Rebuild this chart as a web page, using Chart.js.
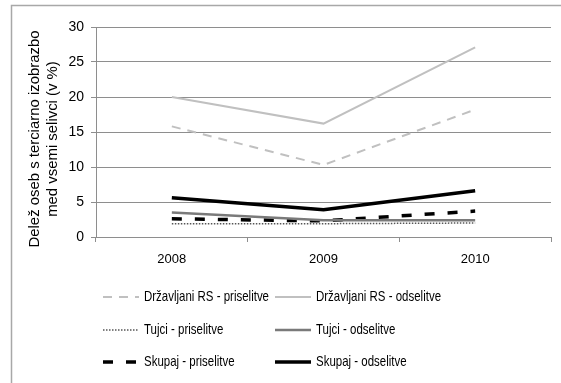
<!DOCTYPE html>
<html>
<head>
<meta charset="utf-8">
<script src="https://cdn.jsdelivr.net/npm/chart.js@4"></script>
<style>
  html, body { margin: 0; padding: 0; background: #fff; }
  #wrap { width: 561px; height: 383px; }
</style>
</head>
<body>
<div id="wrap"><canvas id="chart" width="561" height="383"></canvas></div>
<script>
// data
const years = ["2008", "2009", "2010"];
const drzPri = [15.8, 10.3, 18.2];
const drzOds = [20.0, 16.2, 27.1];
const tujPri = [1.9, 1.9, 2.0];
const tujOds = [3.5, 2.4, 2.4];
const skuPri = [2.6, 2.3, 3.7];
const skuOds = [5.6, 3.9, 6.6];
const yTicks = [0, 5, 10, 15, 20, 25, 30];
const yTitle = ["Delež oseb s terciarno izobrazbo", "med vsemi selivci (v %)"];

const FONT = "'Liberation Sans', Arial, sans-serif";
const GRID = "#8e8e8e";

const mk = (label, data, color, width, dash) => ({
  label, data,
  borderColor: color,
  backgroundColor: color,
  borderWidth: width,
  borderDash: dash,
  borderCapStyle: "butt",
  pointRadius: 0,
  tension: 0,
  fill: false
});

const datasets = [
  mk("Državljani RS - priselitve", drzPri, "#c0c0c0", 2, [9, 7]),
  mk("Državljani RS - odselitve", drzOds, "#c0c0c0", 2, []),
  mk("Tujci - priselitve", tujPri, "#555555", 1.5, [1.5, 1.5]),
  mk("Tujci - odselitve", tujOds, "#7a7a7a", 2.5, []),
  mk("Skupaj - priselitve", skuPri, "#000000", 3.5, [10, 13]),
  mk("Skupaj - odselitve", skuOds, "#000000", 3.5, [])
];

// outer frame, rotated y title and the two-column legend
// the original font is narrow, so text is squeezed to the widths seen there
const decor = {
  id: "decor",
  beforeDraw(chart) {
    const c = chart.ctx;
    c.save();
    c.fillStyle = "#fff";
    c.fillRect(0, 0, chart.width, chart.height);
    c.strokeStyle = "#a8a8a8";
    c.lineWidth = 1.5;
    c.strokeRect(11.5, 5.5, 600, 420);
    c.restore();
  },
  afterDraw(chart) {
    const c = chart.ctx;
    c.save();
    // y title, first line about 217px long
    c.fillStyle = "#000";
    c.font = "15px " + FONT;
    c.textAlign = "center";
    c.textBaseline = "middle";
    const tScale = Math.min(1, 217 / c.measureText(yTitle[0]).width);
    c.translate(44, 139);
    c.rotate(-Math.PI / 2);
    c.scale(tScale, 1);
    c.fillText(yTitle[0], 0, -9);
    c.fillText(yTitle[1], 0, 9);
    c.restore();

    // legend, first label about 125px long
    const cols = [103, 275];
    const rows = [297, 330, 362];
    c.save();
    c.font = "15px " + FONT;
    c.textBaseline = "middle";
    c.textAlign = "left";
    const lScale = Math.min(1, 125 / c.measureText(datasets[0].label).width);
    chart.data.datasets.forEach((ds, i) => {
      const x = cols[i % 2], y = rows[Math.floor(i / 2)];
      c.beginPath();
      c.strokeStyle = ds.borderColor;
      c.lineWidth = ds.borderWidth;
      c.setLineDash(ds.borderDash);
      c.lineCap = "butt";
      c.moveTo(x, y);
      c.lineTo(x + 36, y);
      c.stroke();
      c.setLineDash([]);
      c.save();
      c.translate(x + 41, y);
      c.scale(lScale, 1);
      c.fillStyle = "#000";
      c.fillText(ds.label, 0, 0);
      c.restore();
    });
    c.restore();
  }
};

new Chart(document.getElementById("chart"), {
  type: "line",
  data: { labels: years, datasets },
  plugins: [decor],
  options: {
    responsive: false,
    animation: false,
    layout: { padding: { top: 27, right: 10, left: 0, bottom: 0 } },
    plugins: { legend: { display: false }, tooltip: { enabled: false } },
    scales: {
      x: {
        offset: true,
        grid: { drawOnChartArea: false, drawTicks: true, tickLength: 5, color: GRID, offset: true },
        border: { color: GRID, width: 1 },
        ticks: { color: "#000", font: { family: FONT, size: 13 }, padding: 10, maxRotation: 0 },
        afterFit: s => { s.height = 146; }
      },
      y: {
        min: 0, max: 30,
        afterBuildTicks: s => { s.ticks = yTicks.map(v => ({ value: v })); },
        grid: { color: GRID, tickLength: 5, lineWidth: 1 },
        border: { color: GRID, width: 1 },
        ticks: { color: "#000", font: { family: FONT, size: 14 }, padding: 7 },
        afterFit: s => { s.width = 96; }
      }
    }
  }
});
</script>
</body>
</html>
